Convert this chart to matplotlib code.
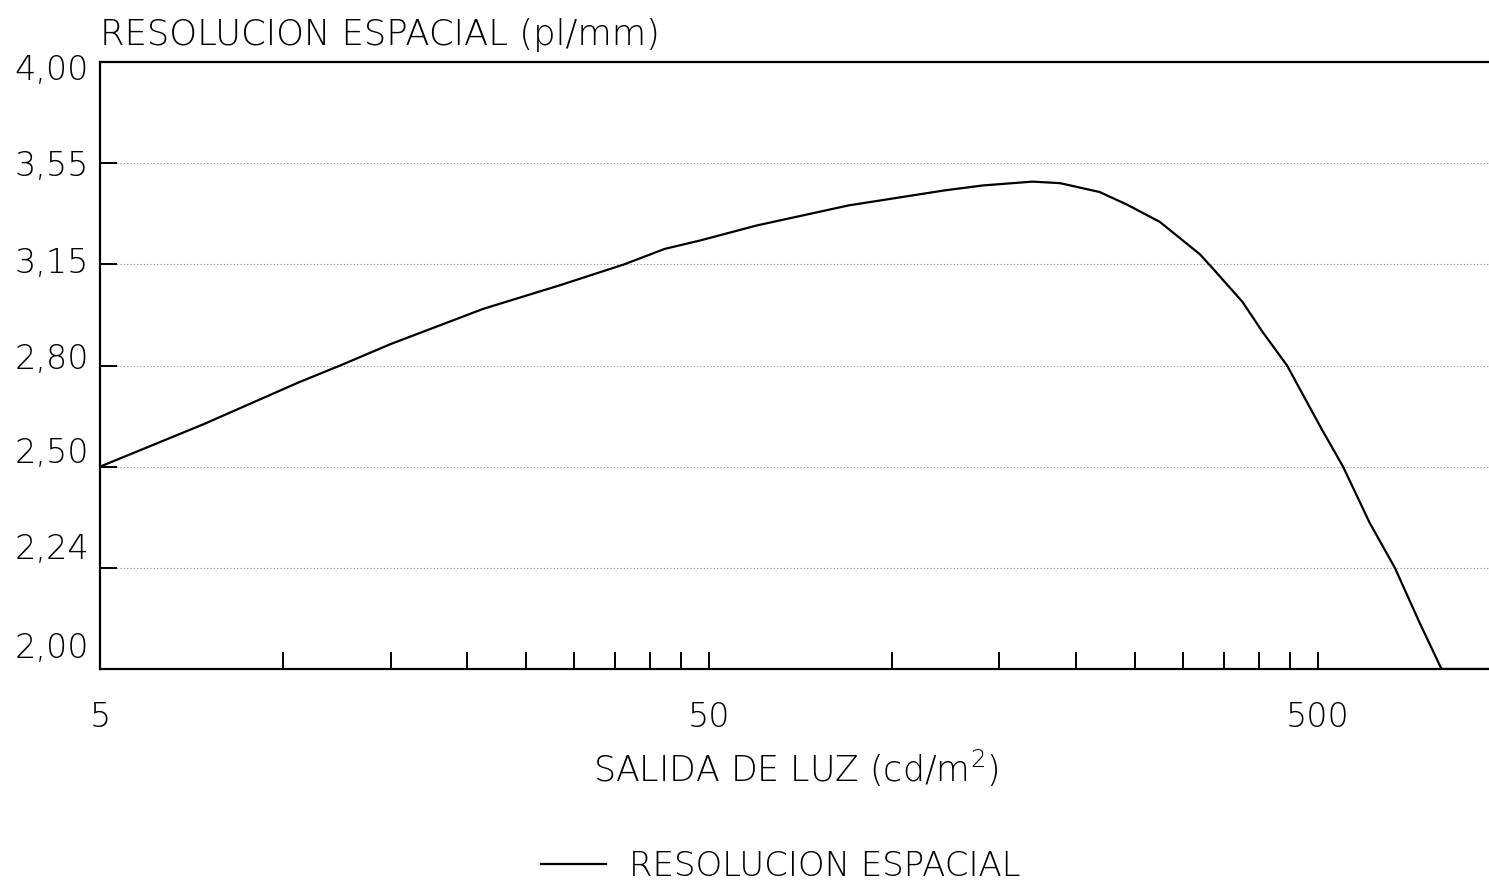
import numpy as np
import matplotlib
matplotlib.use("Agg")
import matplotlib.pyplot as plt
from matplotlib.ticker import FixedLocator, NullFormatter
import matplotlib.transforms as mtransforms

# ---- data ----
luz = [5.0, 7.4, 10.6, 12.4, 15.0, 21.3, 28.4, 36.3, 42.3, 48.3, 60.0, 84.8,
       121.6, 141.0, 170.0, 188.6, 219.0, 243.0, 275.0, 320.0, 336.0, 376.0,
       406.0, 445.0, 507.0, 550.0, 608.0, 669.0, 735.0, 798.0, 955.0]
resolucion = [2.50, 2.626, 2.75, 2.80, 2.874, 2.996, 3.077, 3.15, 3.211, 3.244,
              3.304, 3.383, 3.442, 3.462, 3.477, 3.471, 3.436, 3.386, 3.318,
              3.19, 3.136, 3.02, 2.915, 2.80, 2.612, 2.50, 2.356, 2.24, 2.109,
              2.00, 2.00]
y_ticks = [2.00, 2.24, 2.50, 2.80, 3.15, 3.55, 4.00]
y_ticklabels = ["2,00", "2,24", "2,50", "2,80", "3,15", "3,55", "4,00"]
x_ticks = [5, 50, 500]
x_ticklabels = ["5", "50", "500"]
series_name = "RESOLUCION ESPACIAL"
title = "RESOLUCION ESPACIAL (pl/mm)"
xlabel = "SALIDA DE LUZ (cd/m$^{2}$)"

plt.rcParams['font.family'] = ['DejaVu Sans']
plt.rcParams['font.weight'] = 'light'
plt.rcParams['mathtext.default'] = 'regular'

fig = plt.figure(figsize=(14.89, 8.88), dpi=100)
W, H = 1489, 888
ax = fig.add_axes([100 / W, 1 - 669 / H, 1389 / W, (669 - 62) / H])

# y axis: evenly spaced labelled levels
ypos = np.arange(len(y_ticks), dtype=float)
def fwd(v):
    return np.interp(np.asarray(v, dtype=float), y_ticks, ypos)
def inv(p):
    return np.interp(np.asarray(p, dtype=float), ypos, y_ticks)
ax.set_yscale('function', functions=(fwd, inv))
ax.set_xscale('log')

ax.plot(luz, resolucion, color='black', lw=1.6, label=series_name,
        solid_joinstyle='round', zorder=3)

ax.set_xlim(5, 955)
ax.set_ylim(2.0, 4.0)

ax.yaxis.set_major_locator(FixedLocator(y_ticks))
ax.set_yticklabels(y_ticklabels)
ax.yaxis.set_minor_locator(FixedLocator([]))

ax.xaxis.set_major_locator(FixedLocator(x_ticks))
ax.set_xticklabels(x_ticklabels)
minors = [k * b for b in (5, 50) for k in range(2, 10)]
ax.xaxis.set_minor_locator(FixedLocator(minors))
ax.xaxis.set_minor_formatter(NullFormatter())

ax.tick_params(axis='both', which='both', direction='in', length=12, width=1.4,
               color='black')
ax.tick_params(axis='x', which='both', pad=23, labelsize=24)
ax.tick_params(axis='y', which='both', pad=8, labelsize=24)
ax.tick_params(axis='y', which='both', left=True, right=False)
ax.tick_params(axis='x', which='both', top=False)

# per-label vertical offsets as in the reference
offs = [24, 22, 17, 10, 4, 0, -5]
for lab, o in zip(ax.get_yticklabels(), offs):
    lab.set_transform(lab.get_transform() +
                      mtransforms.ScaledTranslation(0, o / 100, fig.dpi_scale_trans))

# dotted gridlines
for v in y_ticks[1:-1]:
    ax.axhline(v, color='#8a8a8a', lw=0.8, linestyle=(0, (1, 2)), zorder=1)

for s in ['left', 'bottom', 'top']:
    ax.spines[s].set_linewidth(1.6)
    ax.spines[s].set_color('black')
ax.spines['right'].set_visible(False)

fig.text(100 / W, 1 - 45 / H, title, fontsize=25.5, ha='left', va='baseline')
fig.text(796 / W, 1 - 768 / H, xlabel, fontsize=25, ha='center', va='center')

fig.legend(loc='center', bbox_to_anchor=(781 / W, 1 - 866 / H), frameon=False,
           fontsize=24.5, handlelength=1.9, handletextpad=0.68)

fig.savefig('out.png', dpi=100)
